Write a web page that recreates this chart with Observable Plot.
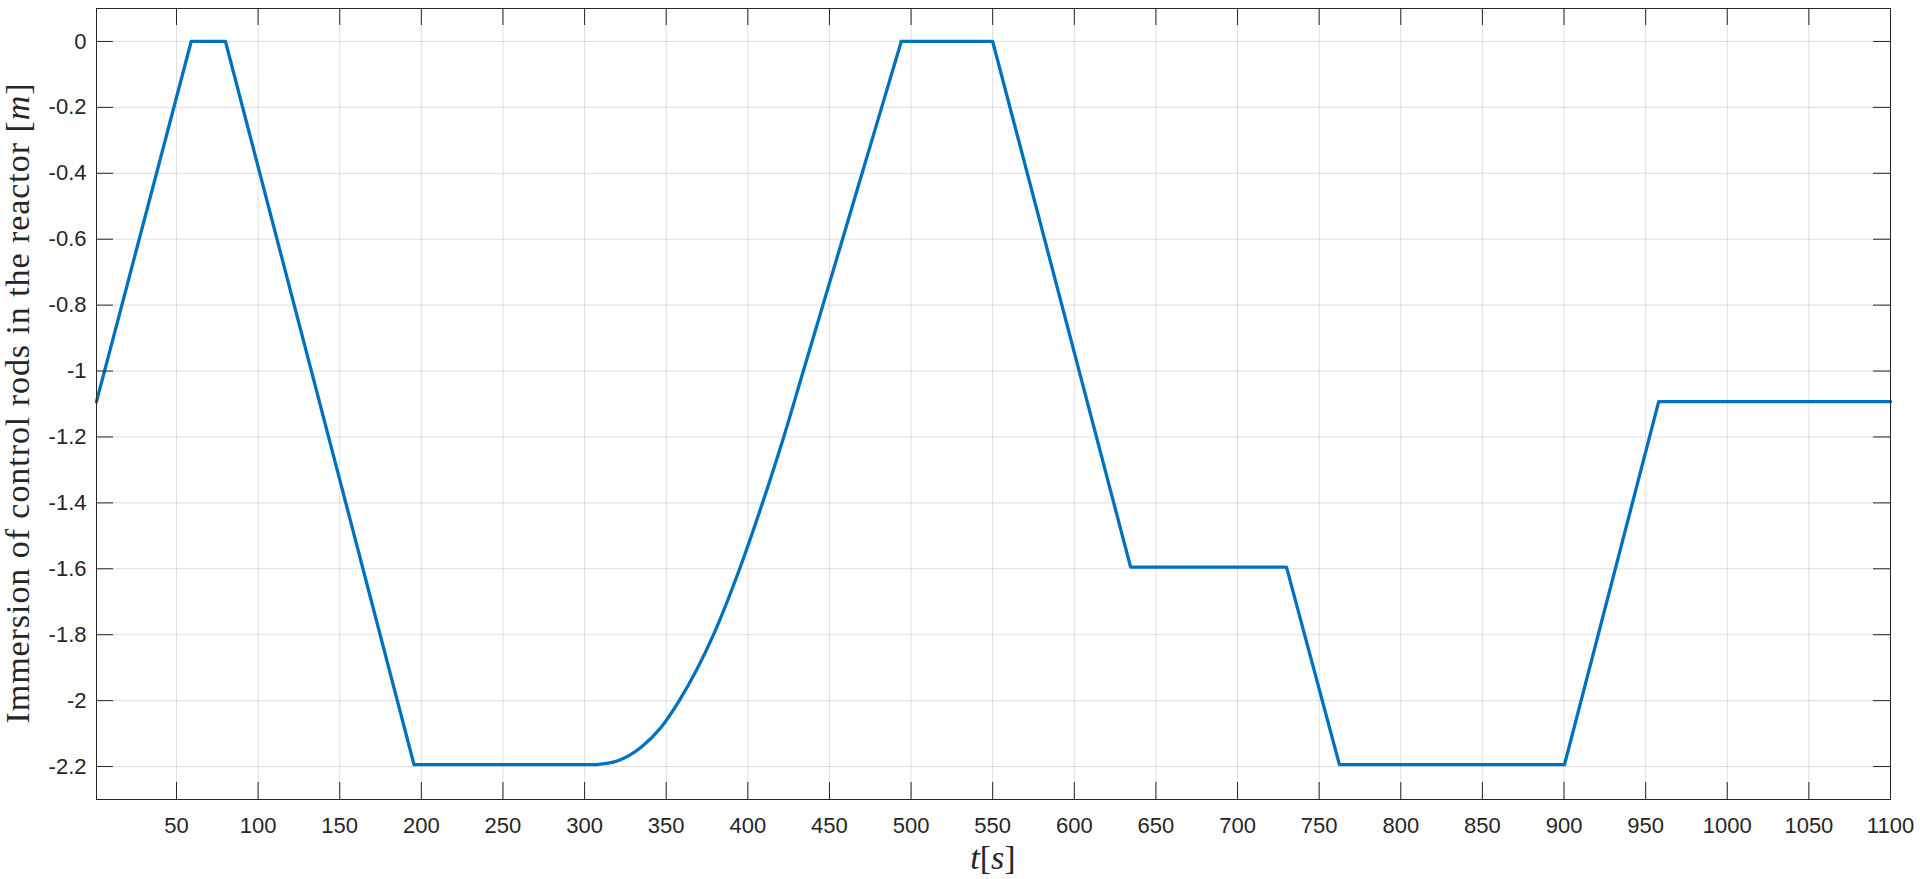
<!DOCTYPE html>
<html>
<head>
<meta charset="utf-8">
<script src="https://cdn.jsdelivr.net/npm/d3@7"></script>
<script src="https://cdn.jsdelivr.net/npm/@observablehq/plot@0.6"></script>
<style>
html, body { margin: 0; padding: 0; background: #fff; overflow: hidden; }
svg { display: block; }
</style>
</head>
<body>
<div id="chart"></div>
<script>
// Time [s]
const time = [1, 59, 80, 195.5, 307, 320, 335, 347, 358, 379, 395, 409, 422, 434, 446, 458, 470, 482, 494, 550, 634.5, 730, 762.4, 900.3, 958, 1100];
// Immersion of control rods [m]
const immersion = [-1.093, 0, 0, -2.194, -2.194, -2.183, -2.14, -2.08, -2.0, -1.8, -1.6, -1.4, -1.2, -1.0, -0.8, -0.6, -0.4, -0.2, 0, 0, -1.595, -1.595, -2.194, -2.194, -1.093, -1.093];
// Start / end of the smooth (non-linear) withdrawal phase [s]
const smoothPhase = [307, 494];

const xTicks = [50, 100, 150, 200, 250, 300, 350, 400, 450, 500, 550, 600, 650, 700, 750, 800, 850, 900, 950, 1000, 1050, 1100];
const yTicks = [0, -0.2, -0.4, -0.6, -0.8, -1, -1.2, -1.4, -1.6, -1.8, -2, -2.2];
const yTickLabels = ["0", "-0.2", "-0.4", "-0.6", "-0.8", "-1", "-1.2", "-1.4", "-1.6", "-1.8", "-2", "-2.2"];

const data = time.map((t, i) => ({t, z: immersion[i]}));
const partA = data.filter(d => d.t <= smoothPhase[0]);
const partS = data.filter(d => d.t >= smoothPhase[0] && d.t <= smoothPhase[1]);
const partB = data.filter(d => d.t >= smoothPhase[1]);

const W = 1920, H = 879, mL = 96, mR = 30, mT = 8, mB = 80, tickLen = 17;
const innerW = W - mL - mR, innerH = H - mT - mB;
const ink = "#262626";
const lineStyle = {x: "t", y: "z", stroke: "#0072BD", strokeWidth: 3.3, strokeLinejoin: "round", strokeLinecap: "round"};

const chart = Plot.plot({
  width: W,
  height: H,
  marginLeft: mL,
  marginRight: mR,
  marginTop: mT,
  marginBottom: mB,
  style: {fontFamily: "'Liberation Sans', Arial, sans-serif", fontSize: "22px", color: ink, background: "#fff"},
  x: {domain: [1, 1100]},
  y: {domain: [-2.3, 0.1]},
  marks: [
    Plot.gridX(xTicks, {stroke: ink, strokeOpacity: 0.15, strokeWidth: 1}),
    Plot.gridY(yTicks, {stroke: ink, strokeOpacity: 0.15, strokeWidth: 1}),
    Plot.line(partA, {...lineStyle, curve: "linear"}),
    Plot.line(partS, {...lineStyle, curve: "monotone-x"}),
    Plot.line(partB, {...lineStyle, curve: "linear"}),
    Plot.tickX(xTicks, {x: d => d, insetTop: innerH - tickLen, stroke: ink}),
    Plot.tickX(xTicks, {x: d => d, insetBottom: innerH - tickLen, stroke: ink}),
    Plot.tickY(yTicks, {y: d => d, insetRight: innerW - tickLen, stroke: ink}),
    Plot.tickY(yTicks, {y: d => d, insetLeft: innerW - tickLen, stroke: ink}),
    Plot.axisX(xTicks, {tickSize: 0, tickPadding: 18, label: null, tickFormat: d => String(d), fill: ink}),
    Plot.axisY(yTicks, {tickSize: 0, tickPadding: 10, label: null, tickFormat: d => yTickLabels[yTicks.indexOf(d)], fill: ink}),
    Plot.frame({stroke: ink, strokeWidth: 1})
  ]
});

document.getElementById("chart").appendChild(chart);

const svg = d3.select(chart);
// y-axis label
const yl = svg.append("text")
  .attr("transform", `translate(29, ${mT + innerH / 2}) rotate(-90)`)
  .attr("text-anchor", "middle")
  .attr("fill", ink)
  .attr("textLength", 640)
  .attr("lengthAdjust", "spacing")
  .style("font-family", "'Liberation Serif', 'DejaVu Serif', serif")
  .style("font-size", "34px");
yl.append("tspan").text("Immersion of control rods in the reactor [");
yl.append("tspan").style("font-style", "italic").text("m");
yl.append("tspan").text("]");

// x-axis label
const xl = svg.append("text")
  .attr("transform", `translate(${mL + innerW / 2}, 869)`)
  .attr("text-anchor", "middle")
  .attr("fill", ink)
  .style("font-family", "'Liberation Serif', 'DejaVu Serif', serif")
  .style("font-size", "34px");
xl.append("tspan").style("font-style", "italic").text("t");
xl.append("tspan").text("[");
xl.append("tspan").style("font-style", "italic").text("s");
xl.append("tspan").text("]");
</script>
</body>
</html>
